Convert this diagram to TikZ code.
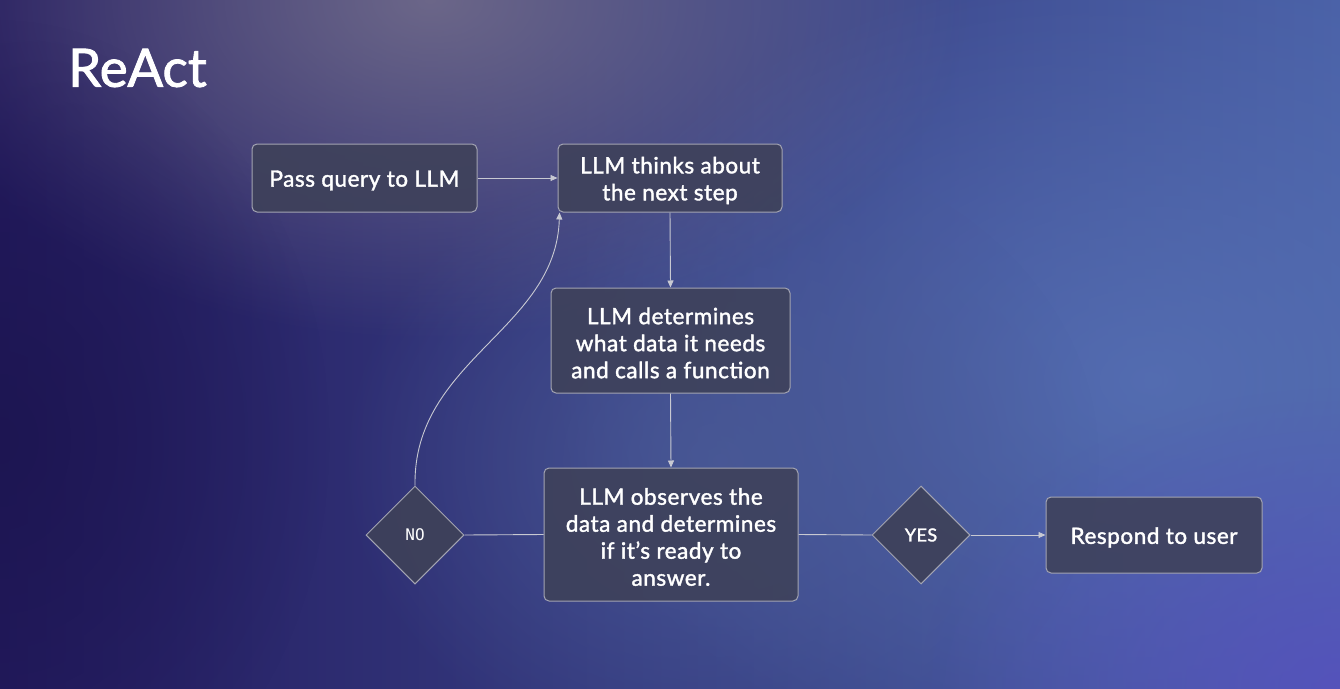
\documentclass[tikz,border=0pt]{standalone}
\usepackage{fontspec}
\setmainfont{Lato}
\newfontfamily\medfam[RawFeature={embolden=1.6}, LetterSpace=2.5]{Lato}
\newfontfamily\titlefam[RawFeature={embolden=1.6}]{Lato}
\newfontfamily\monofam{DejaVu Sans Mono}
\usetikzlibrary{arrows.meta,shapes.geometric,fadings}
\definecolor{bgleft}{HTML}{231A5E}
\definecolor{bgright}{HTML}{4B62A8}
\definecolor{glowtop}{HTML}{76708C}
\definecolor{glowblue}{HTML}{5670B4}
\definecolor{glowmid}{HTML}{4A5A96}
\definecolor{glowpurple}{HTML}{5650BE}
\definecolor{glowdark}{HTML}{1C1550}
\definecolor{boxfill}{HTML}{3E4159}
\definecolor{boxline}{HTML}{A3A4B2}
\definecolor{wireclr}{HTML}{C8C9D2}
\tikzfading[name=softglow, inner color=transparent!15, outer color=transparent!100]
\tikzset{
  stepbox/.style={draw=boxline, line width=1pt, fill=boxfill, fill opacity=0.88, text opacity=1,
    rounded corners=5pt, inner sep=0pt},
  boxtext/.style={text=white, align=center, font=\medfam\fontsize{22.5}{27}\selectfont, inner sep=0pt,
    yshift=-2.5pt, fill opacity=1, text opacity=1},
  decision/.style={diamond, draw=boxline, line width=1pt, fill=boxfill, fill opacity=0.92, text opacity=1,
    text=white, minimum width=98pt, minimum height=98pt, inner sep=0pt, aspect=1},
  wire/.style={draw=wireclr, line width=0.9pt},
  arrowwire/.style={wire, -{Triangle[length=7pt,width=6pt]}}
}
\begin{document}
\begin{tikzpicture}[x=1pt,y=-1pt]
\useasboundingbox (0,0) rectangle (1340,688);
% background
\shade[left color=bgleft, right color=bgright] (0,0) rectangle (1340,688);
\begin{scope}
\clip (0,0) rectangle (1340,688);
\fill[glowblue, path fading=softglow] (1150,380) ellipse (600 and 420);
\fill[glowmid, path fading=softglow] (720,460) ellipse (380 and 320);
\fill[glowpurple, path fading=softglow] (1340,688) ellipse (420 and 300);
\fill[glowtop, path fading=softglow] (430,0) ellipse (540 and 340);
\fill[glowdark, path fading=softglow] (0,440) ellipse (330 and 420);
\end{scope}
% title
\node[text=white, font=\titlefam\fontsize{53}{56}\selectfont, anchor=west, inner sep=0pt] (title) at (68,68) {ReAct};
% nodes
\node[stepbox, minimum width=225pt, minimum height=68pt,
  label={[boxtext]center:{Pass query to LLM}}] (pass) at (364.5,178) {};
\node[stepbox, minimum width=224pt, minimum height=68pt,
  label={[boxtext]center:{LLM thinks about\\the next step}}] (think) at (670,178) {};
\node[stepbox, minimum width=239pt, minimum height=105pt,
  label={[boxtext]center:{LLM determines\\what data it needs\\and calls a function}}] (determ) at (670.5,340.5) {};
\node[stepbox, minimum width=254pt, minimum height=133pt,
  label={[boxtext]center:{LLM observes the\\data and determines\\if it’s ready to\\answer.}}] (observe) at (671,534.5) {};
\node[decision, font=\monofam\fontsize{16}{18}\selectfont] (no) at (415,535) {NO};
\node[decision, font=\medfam\fontsize{18}{20}\selectfont] (yes) at (921,535) {YES};
\node[stepbox, minimum width=216pt, minimum height=76pt,
  label={[boxtext]center:{Respond to user}}] (respond) at (1154,535) {};
% connectors
\draw[arrowwire] (pass.east) -- (think.west);
\draw[arrowwire] (think.south) -- (determ.north);
\draw[arrowwire] (determ.south) -- (observe.north);
\draw[wire] (observe.west) -- (no.east);
\draw[wire] (observe.east) -- (yes.west);
\draw[arrowwire] (yes.east) -- (respond.west);
\draw[arrowwire] (no.north) .. controls (413,360) and (556,330) .. ([xshift=2pt]think.south west);
\end{tikzpicture}
\end{document}
